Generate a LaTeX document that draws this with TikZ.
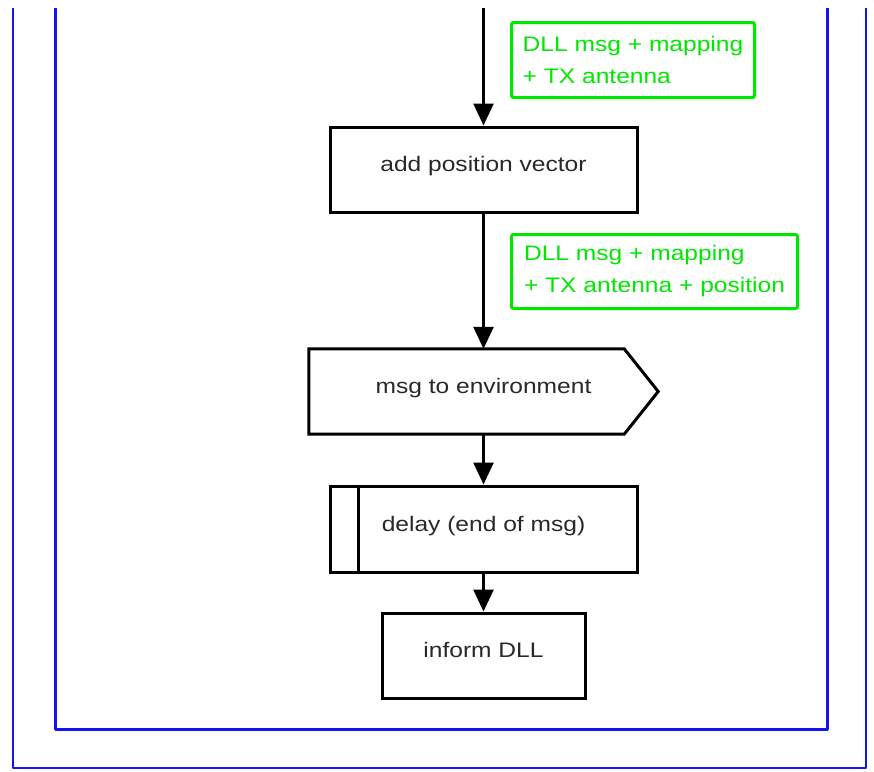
\documentclass[tikz,border=0pt]{standalone}
\usepackage{fontspec}
\setmainfont[FakeStretch=1.17]{Liberation Sans}
\usetikzlibrary{arrows.meta}
\definecolor{frameblue}{RGB}{20,20,240}
\definecolor{notegreen}{RGB}{0,232,0}
\definecolor{txt}{RGB}{40,40,40}
\tikzset{
  stepbox/.style={draw=black, line width=3pt, rectangle, inner sep=0pt,
    font=\fontsize{21}{26}\selectfont, text=txt},
  note/.style={draw=notegreen, line width=3pt, rounded corners=2pt, rectangle,
    anchor=north west, align=left, inner xsep=10pt, inner ysep=0pt,
    font=\fontsize{21}{32}\selectfont, text=notegreen},
  flow/.style={line width=2.6pt, -{Triangle[width=20pt,length=22pt]}},
  frame/.style={draw=frameblue, line join=round},
}
\newcommand{\up}[1]{\raisebox{10.5pt}{#1}}
\begin{document}
\begin{tikzpicture}[x=1pt,y=-1pt]
\useasboundingbox (0,0) rectangle (874,771);

% open frames of the enclosing blocks
\draw[frame, line width=2pt] (13,8) -- (13,768) -- (866,768) -- (866,8);
\draw[frame, line width=3pt] (55,8) -- (55,729) -- (827,729) -- (827,8);

\coordinate (in) at (483.5,8);

% process steps
\node[stepbox, minimum width=307pt, minimum height=85pt] (pos) at (483.5,169.5)
  {\up{add position vector}};
\node[minimum width=349pt, minimum height=85pt, inner sep=0pt,
  font=\fontsize{21}{26}\selectfont, text=txt] (env) at (483.5,391.5)
  {\up{msg to environment}};
\draw[line width=3pt, line join=miter]
  (env.north west) -- ([xshift=-34pt]env.north east) -- (env.east)
  -- ([xshift=-34pt]env.south east) -- (env.south west) -- cycle;
\node[stepbox, minimum width=307pt, minimum height=86pt] (dly) at (483.5,529)
  {\up{delay (end of msg)}};
\draw[line width=3pt] ([xshift=30pt]dly.north west) -- ([xshift=30pt]dly.south west);
\node[stepbox, minimum width=203pt, minimum height=85pt] (dll) at (483.5,655.5)
  {\up{inform DLL}};

% data annotations
\node[note, minimum width=243pt, minimum height=75pt] (n1) at (510,21)
  {DLL msg + mapping\\+ TX antenna};
\node[note, minimum width=286pt, minimum height=74pt] (n2) at (510,233)
  {DLL msg + mapping\\+ TX antenna + position};

% flow
\draw[flow] (in) -- (pos.north);
\draw[flow] (pos.south) -- (pos.south |- env.north);
\draw[flow] (pos.south |- env.south) -- (dly.north);
\draw[flow] (dly.south) -- (dll.north);
\end{tikzpicture}
\end{document}
